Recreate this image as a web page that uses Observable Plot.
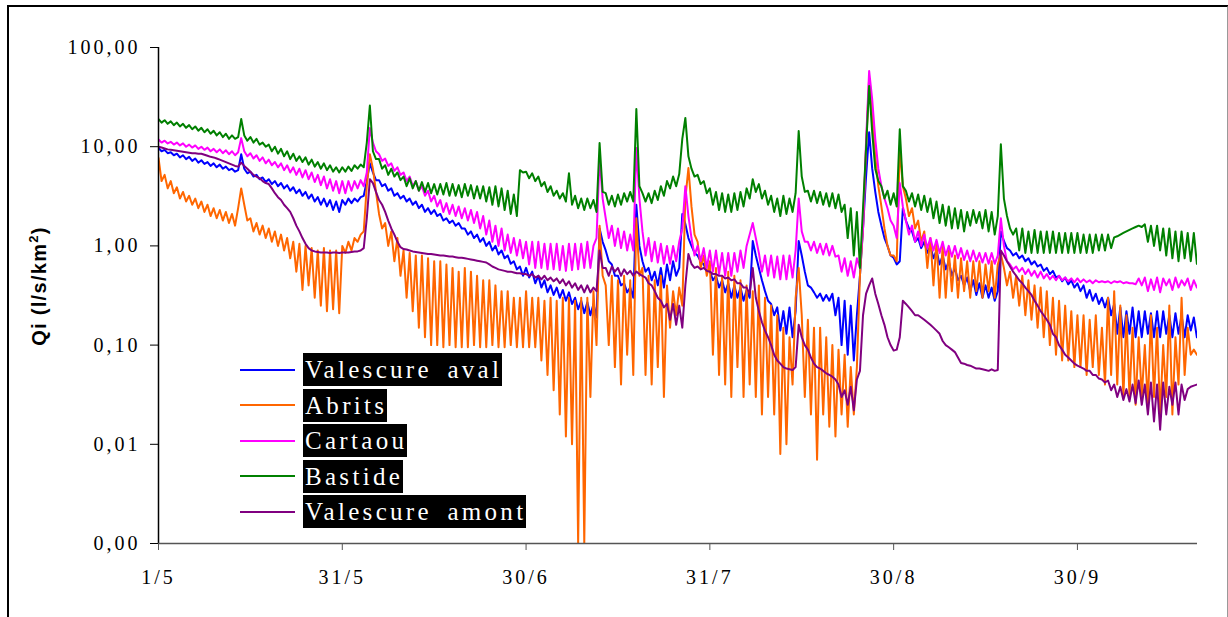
<!DOCTYPE html>
<html><head><meta charset="utf-8">
<script src="https://cdn.jsdelivr.net/npm/d3@7"></script>
<script src="https://cdn.jsdelivr.net/npm/@observablehq/plot@0.6"></script>
<style>
body{margin:0;background:#fff;}
#wrap{position:relative;width:1228px;height:617px;overflow:hidden;background:#fff;}
#plot{position:absolute;left:0;top:0;}
#frame{position:absolute;left:7px;top:5px;width:1218px;height:700px;border-left:2px solid #000;border-top:2px solid #000;border-right:2px solid #999;pointer-events:none;}
#ytitle{position:absolute;left:38px;top:286px;transform:translate(-50%,-50%) rotate(-90deg);font:bold 20px "Liberation Sans",Arial,sans-serif;white-space:nowrap;letter-spacing:1.3px;}
#ytitle .sup{font-size:13px;vertical-align:8px;}
.leg{position:absolute;left:240px;height:33px;display:flex;align-items:center;}
.leg .ln{width:55px;height:2px;margin-right:8px;}
.leg .tx{background:#000;color:#fff;font:25px "Liberation Serif","Times New Roman",serif;letter-spacing:3.3px;word-spacing:6px;padding:0 0 0 2px;height:33px;line-height:34px;white-space:pre;}
#plot g[aria-label="y-axis tick label"] text, #plot g[aria-label="x-axis tick label"] text{letter-spacing:3px;}
</style></head><body>
<div id="wrap"><div id="plot"></div><div id="frame"></div><div id="ytitle">Qi (l/s/km<span class="sup">2</span>)</div><div id="legend"></div></div>
<script>
// x = day index since 1/5 at half-day steps
const xTicks = [0, 30, 60, 90, 120, 150];
const xLabels = ["1/5", "31/5", "30/6", "31/7", "30/8", "30/9"];
const yTicks = [100, 10, 1, 0.1, 0.01, 0.001];
const yLabels = ["100,00", "10,00", "1,00", "0,10", "0,01", "0,00"];
const names = ["Valescure aval", "Abrits", "Cartaou", "Bastide", "Valescure amont"];
const colors = ["#0000ff", "#ff6600", "#ff00ff", "#008000", "#800080"];

const valescureAval = [
9.7,9,9.3,8.6,8.8,8.2,8.5,7.8,8.2,7.5,7.9,7.2,7.6,6.9,7.3,6.7,7,6.4,6.8,6.2,
6.6,6,6.3,5.8,6,5.6,5.8,8.4,6,5.4,5.6,5,5.2,4.7,4.9,4.4,4.7,4.2,4.5,4,
4.3,3.8,4.1,3.6,3.9,3.4,3.7,3.2,3.5,3,3.3,2.8,3.1,2.6,3,2.5,2.9,2.3,2.8,2.2,
2.9,2.6,3,2.7,3,2.8,3.1,3.2,4.5,6.8,5.5,4.6,4.6,4,4.2,3.6,3.8,3.2,3.4,3,
3.2,2.8,3,2.6,2.8,2.4,2.6,2.2,2.4,2.1,2.3,2,2.1,1.8,1.9,1.7,1.8,1.6,1.7,1.5,
1.5,1.3,1.4,1.2,1.3,1.1,1.2,1,1.1,0.9,1,0.82,0.9,0.75,0.8,0.66,0.7,0.58,0.62,0.5,
0.6,0.48,0.55,0.42,0.5,0.38,0.45,0.34,0.4,0.32,0.38,0.3,0.36,0.28,0.34,0.26,0.3,0.23,0.28,0.21,
0.27,0.2,0.26,0.19,1.5,1.1,0.9,0.7,0.65,0.5,0.5,0.4,0.42,0.34,0.38,0.3,2.6,1,0.7,0.55,
0.6,0.45,0.55,0.4,0.6,0.38,0.65,0.45,0.7,0.5,0.6,2.1,1.66,1.2,1,0.85,0.8,0.7,0.65,0.56,
0.56,0.45,0.5,0.38,0.45,0.34,0.42,0.3,0.4,0.3,0.38,0.28,0.36,0.3,1.12,0.8,0.6,0.45,0.35,0.28,
0.26,0.2,0.24,0.14,0.22,0.13,0.24,0.12,0.22,1.12,0.8,0.55,0.4,0.38,0.34,0.3,0.33,0.28,0.32,0.28,
0.33,0.2,0.3,0.1,0.28,0.08,0.25,0.07,0.2,0.5,1.5,5,14,6,3.5,2.2,1.6,1.2,1,0.8,
0.76,0.65,0.7,2.4,1.8,1.5,1.4,1.1,1.2,0.95,1.1,0.85,1,0.75,0.9,0.65,0.8,0.58,0.7,0.5,
0.6,0.45,0.5,0.4,0.48,0.35,0.45,0.32,0.42,0.3,0.4,0.3,0.38,0.28,0.35,1.4,1.12,0.95,0.9,0.8,
0.85,0.75,0.8,0.7,0.75,0.65,0.7,0.62,0.65,0.56,0.6,0.52,0.56,0.48,0.5,0.44,0.48,0.41,0.45,0.38,
0.42,0.35,0.4,0.3,0.36,0.28,0.33,0.26,0.3,0.24,0.3,0.2,0.26,0.13,0.24,0.12,0.22,0.13,0.24,0.12,
0.22,0.12,0.22,0.13,0.21,0.12,0.22,0.12,0.22,0.13,0.2,0.12,0.21,0.13,0.2,0.12,0.2,0.14,0.19,0.12
];
const abrits = [
7.7,4.5,5.2,3.8,4.5,3.4,3.9,3,3.5,2.8,3.2,2.6,3,2.4,2.8,2.2,2.6,2,2.4,1.9,
2.3,1.8,2.2,1.7,2.1,1.6,2.4,3.8,2.6,1.8,1.9,1.4,1.7,1.3,1.6,1.2,1.5,1.1,1.4,1,
1.3,0.9,1.2,0.75,1.1,0.55,1.05,0.36,1,0.4,0.95,0.3,0.9,0.25,0.95,0.22,0.9,0.23,0.9,0.21,
1,0.85,1.1,0.9,1.2,1.1,1.3,1.4,4,8.4,6,3.5,2.1,1.5,1.7,1,1.4,0.7,1.2,0.5,
0.9,0.3,0.85,0.22,0.8,0.15,0.8,0.12,0.75,0.1,0.7,0.1,0.7,0.095,0.65,0.1,0.6,0.095,0.55,0.095,
0.6,0.095,0.55,0.1,0.5,0.095,0.45,0.095,0.45,0.1,0.4,0.095,0.35,0.095,0.35,0.1,0.3,0.095,0.3,0.095,
0.35,0.095,0.3,0.095,0.3,0.07,0.28,0.05,0.3,0.035,0.28,0.02,0.3,0.012,0.3,0.01,0.28,0.001,0.3,0.001,
0.3,0.03,0.35,0.1,1.6,0.5,0.4,0.1,0.5,0.06,0.45,0.04,0.5,0.08,0.45,0.05,1.9,0.5,0.6,0.05,
0.5,0.04,0.45,0.06,0.5,0.03,0.4,0.15,0.35,0.2,0.38,0.25,3,6.1,2.5,1.3,1.1,0.6,0.8,0.5,
0.7,0.08,0.6,0.05,0.5,0.04,0.55,0.03,0.5,0.06,0.45,0.03,0.4,0.04,0.35,0.03,0.4,0.02,0.3,0.03,
0.25,0.02,0.2,0.008,0.15,0.01,0.12,0.04,0.3,0.6,0.2,0.03,0.18,0.02,0.15,0.007,0.15,0.02,0.12,0.015,
0.1,0.012,0.09,0.02,0.08,0.015,0.06,0.02,0.06,0.5,1.5,10,49,20,8,4,2.5,1.5,1,0.8,
0.8,0.7,9.7,4,3,2,2.4,1.5,1.8,1.1,1.4,0.6,1.2,0.4,1.1,0.3,1,0.3,0.9,0.35,
0.8,0.3,0.75,0.35,0.7,0.3,0.7,0.35,0.7,0.3,0.65,0.35,0.7,0.3,0.65,0.83,0.6,0.4,0.55,0.3,
0.5,0.25,0.5,0.2,0.45,0.18,0.4,0.15,0.38,0.12,0.35,0.1,0.3,0.08,0.28,0.07,0.25,0.07,0.22,0.06,
0.2,0.06,0.2,0.05,0.18,0.06,0.2,0.05,0.15,0.04,0.3,0.05,0.35,0.04,0.25,0.03,0.2,0.03,0.15,0.025,
0.12,0.03,0.1,0.025,0.2,0.03,0.15,0.02,0.1,0.03,0.25,0.02,0.12,0.04,0.3,0.05,0.15,0.08,0.09,0.08
];
const cartaou = [
11.8,11,11.5,10.8,11.2,10.5,11,10.3,10.8,10,10.5,9.8,10.3,9.5,10,9.3,9.8,9,9.5,8.8,
9.4,8.6,9.2,8.4,9,8.2,8.8,12.2,9,8,8.6,7.6,8.2,7.2,7.8,6.8,7.4,6.5,7,6.2,
6.8,5.8,6.5,5.5,6.2,5.2,6,4.9,5.8,4.7,5.5,4.4,5.2,4.1,5,3.8,4.7,3.6,4.5,3.4,
4.5,3.4,4.5,3.6,4.5,3.8,4.6,4,5.5,15.4,11,9,8.4,7.2,7.6,6.4,6.8,5.7,6.2,5.2,
5.5,4.5,5,4,4.5,3.6,4,3.2,3.6,2.8,3.2,2.5,2.9,2.2,2.7,2.1,2.6,2,2.5,1.9,
2.4,1.8,2.3,1.7,2.2,1.5,2,1.3,1.8,1.1,1.6,1,1.5,0.9,1.3,0.85,1.2,0.8,1.15,0.75,
1.1,0.65,1.1,0.6,1.1,0.6,1.05,0.58,1.05,0.58,1.05,0.57,1,0.56,1.05,0.57,1.05,0.58,1.05,0.6,
1.1,0.6,1,1.2,7.7,3,1.9,1.2,1.6,1,1.5,0.95,1.4,0.9,1.3,0.9,9.7,3,1.4,0.8,
1.2,0.7,1.1,0.68,1.05,0.66,1,0.66,1,0.7,1.1,1.5,4,2,1.2,0.8,1,0.7,0.95,0.6,
0.9,0.55,0.9,0.52,0.85,0.5,0.85,0.5,0.85,0.55,0.9,0.6,1,1.3,1.7,1.2,0.85,0.55,0.8,0.5,
0.8,0.48,0.78,0.46,0.8,0.46,0.8,0.48,0.9,3,1.4,1.1,1.1,0.9,1.1,0.85,1.05,0.82,1.05,0.8,
1,0.78,0.8,0.55,0.75,0.5,0.7,0.48,0.75,0.6,1.5,11.4,58,30,12,6,4,3,2.4,1.8,
1.6,1.2,4.3,2.5,1.8,1.3,1.6,1.1,1.4,1,1.3,0.95,1.2,0.9,1.15,0.85,1.1,0.8,1,0.78,
1,0.75,0.95,0.72,0.9,0.7,0.9,0.7,0.85,0.68,0.85,0.66,0.85,0.66,0.8,1.9,1,0.7,0.65,0.58,
0.62,0.55,0.6,0.52,0.58,0.5,0.56,0.48,0.55,0.47,0.52,0.46,0.5,0.45,0.5,0.45,0.48,0.44,0.47,0.43,
0.47,0.43,0.46,0.43,0.45,0.42,0.45,0.43,0.44,0.43,0.44,0.42,0.44,0.43,0.44,0.42,0.43,0.42,0.42,0.41,
0.47,0.4,0.48,0.35,0.46,0.36,0.48,0.34,0.47,0.4,0.46,0.36,0.48,0.38,0.45,0.4,0.47,0.36,0.45,0.38
];
const bastide = [
19,17.5,18.5,17,18,16.5,17.5,16,17,15.5,16.5,15,16,14.5,15.5,14,15,13.5,14.5,13,
14,12.5,13.5,12,13,12,12.5,19,13,11.5,12.5,11,12,10.5,11,10,10.5,9,10,8.5,
9.5,8,9,7.5,8.5,7.2,8,7,7.8,6.6,7.4,6.3,7,6,6.8,5.8,6.5,5.6,6.2,5.5,
6.2,5.6,6.3,5.7,6.5,6,6.6,6.2,11,26,9,7.5,7.5,6,6.5,5.2,6,5,5.5,4.6,
5,4,4.8,3.8,4.5,3.6,4.4,3.5,4.3,3.4,4.2,3.3,4.2,3.3,4.3,3.2,4.2,3.2,4.1,3.1,
4.2,3.2,4.1,3,4,3,4,2.8,3.9,2.6,4,2.5,3.8,2.3,3.6,2.1,3.3,2,5.8,5.5,
5.6,4.8,5.4,4.5,5,4,4.4,3.5,4,3.2,3.6,3,3.4,2.8,5.4,2.6,3.2,2.4,3,2.3,
3,2.4,2.9,2.2,10.9,3.5,3.4,2.6,3.2,2.5,3.3,2.6,3.4,2.8,3.5,2.8,24,4,3.4,2.8,
3.4,2.7,3.6,2.9,4,3.2,4.5,3.8,5,4,5.3,12,19.5,8,6,5,5.2,4.2,4.5,3.4,
3.8,2.6,3.5,2.3,3.4,2.2,3.3,2.2,3.4,2.3,3.5,2.5,3.8,3,4.7,3.5,4.2,3,3.6,2.6,
3.2,2.2,3,2,3.2,2.1,3,2.2,3.4,14.4,5,3.5,3.6,2.8,3.6,2.7,3.5,2.6,3.4,2.5,
3.4,2.4,3.3,2.2,2.6,1.2,2.4,0.8,2.2,0.6,2.4,9.7,41,14,6,4.5,4,3,3.6,2.6,
3.4,2.5,15,4,3.6,2.8,3.4,2.5,3.3,2.3,3.2,2.2,3,1.9,2.8,1.7,2.6,1.6,2.5,1.5,
2.4,1.5,2.3,1.4,2.2,1.6,2.3,1.7,2.2,1.5,2.3,1.4,2.2,1.3,2,10.6,3,2,1.5,1.3,
1.5,0.9,1.5,0.85,1.4,0.85,1.45,0.85,1.4,0.85,1.4,0.85,1.4,0.85,1.35,0.85,1.35,0.85,1.35,0.85,
1.35,0.85,1.3,0.85,1.3,0.85,1.3,0.9,1.3,0.9,1.3,0.95,1.22,1.25,1.3,1.35,1.4,1.45,1.5,1.55,
1.6,1.55,1.65,1.1,1.6,1,1.6,0.9,1.5,0.8,1.5,0.75,1.4,0.7,1.4,0.75,1.35,0.7,1.35,0.66
];
const valescureAmont = [
10,9.8,9.6,9.4,9.3,9.2,9.1,9,8.9,8.8,8.7,8.6,8.6,8.5,8.5,8.3,8.1,7.9,7.8,7.6,
7.4,7.2,7,6.8,6.6,6.4,6.3,6.9,6.4,6,5.6,5.2,5,4.8,4.5,4.3,4.2,3.8,3.4,3.1,
2.9,2.6,2.4,2.2,1.9,1.6,1.4,1.2,1.05,0.95,0.9,0.88,0.87,0.86,0.86,0.86,0.85,0.86,0.86,0.85,
0.86,0.86,0.86,0.87,0.88,0.88,0.9,0.95,1.9,4.7,4.3,3.5,2.9,2.6,2.2,1.8,1.5,1.3,1.1,0.97,
0.93,0.92,0.9,0.88,0.87,0.86,0.85,0.84,0.83,0.83,0.82,0.81,0.8,0.8,0.79,0.78,0.78,0.77,0.76,0.76,
0.75,0.74,0.73,0.72,0.71,0.7,0.69,0.68,0.65,0.62,0.6,0.58,0.57,0.56,0.55,0.55,0.54,0.53,0.53,0.52,
0.52,0.5,0.52,0.48,0.5,0.46,0.5,0.45,0.48,0.44,0.47,0.42,0.46,0.4,0.44,0.38,0.42,0.36,0.4,0.34,
0.4,0.34,0.38,0.35,0.9,0.6,0.6,0.5,0.62,0.55,0.6,0.5,0.58,0.52,0.56,0.5,0.55,0.52,0.5,0.48,
0.42,0.4,0.35,0.3,0.28,0.24,0.26,0.18,0.26,0.16,0.25,0.15,0.4,0.83,0.66,0.6,0.62,0.58,0.6,0.56,
0.55,0.52,0.52,0.5,0.5,0.47,0.48,0.45,0.46,0.42,0.42,0.38,0.38,0.33,0.6,0.3,0.22,0.17,0.14,0.12,
0.1,0.08,0.07,0.065,0.06,0.058,0.057,0.056,0.06,0.16,0.12,0.1,0.09,0.075,0.065,0.06,0.058,0.055,0.052,0.05,
0.048,0.045,0.04,0.03,0.035,0.025,0.038,0.022,0.045,0.055,0.2,0.33,0.4,0.47,0.33,0.26,0.2,0.16,0.12,0.1,
0.088,0.09,0.12,0.28,0.26,0.24,0.22,0.2,0.2,0.19,0.18,0.17,0.16,0.15,0.14,0.13,0.11,0.1,0.095,0.09,
0.085,0.075,0.066,0.065,0.063,0.062,0.06,0.058,0.058,0.057,0.056,0.055,0.057,0.055,0.056,0.9,0.8,0.7,0.62,0.55,
0.5,0.45,0.42,0.38,0.35,0.32,0.28,0.25,0.22,0.2,0.18,0.16,0.13,0.12,0.1,0.09,0.08,0.075,0.07,0.065,
0.062,0.06,0.058,0.055,0.055,0.05,0.05,0.046,0.045,0.042,0.044,0.035,0.04,0.03,0.038,0.028,0.036,0.027,0.04,0.026,
0.044,0.025,0.04,0.02,0.042,0.017,0.04,0.014,0.042,0.02,0.038,0.025,0.042,0.02,0.04,0.028,0.036,0.038,0.039,0.04
];

const seriesValues = [valescureAval, abrits, cartaou, bastide, valescureAmont];
seriesValues.forEach((s, k) => { if (s.length !== 340) throw new Error(names[k] + " has " + s.length); });

const rows = seriesValues.flatMap((vals, k) => vals.map((v, i) => ({name: names[k], t: i / 2, v})));

const chart = Plot.plot({
  width: 1228, height: 617,
  marginLeft: 158, marginRight: 31, marginTop: 47, marginBottom: 74,
  style: {fontFamily: '"Liberation Serif","Times New Roman",serif', fontSize: "20px", background: "transparent", color: "#000"},
  x: {domain: [0, 169.6]},
  y: {type: "log", domain: [0.001, 100]},
  color: {domain: names, range: colors},
  marks: [
    Plot.axisY({ticks: yTicks, tickFormat: d => yLabels[yTicks.indexOf(d)], tickSize: 8, tickPadding: 10, label: null, stroke: "#000", fill: "#000"}),
    Plot.axisX({ticks: xTicks, tickFormat: d => xLabels[xTicks.indexOf(d)], tickSize: 7, tickPadding: 19, label: null, stroke: "#555", fill: "#000"}),
    ...names.map(n => Plot.line(rows.filter(r => r.name === n), {x: "t", y: "v", stroke: "name", strokeWidth: 2, clip: true})),
    Plot.ruleX([0], {stroke: "#000", strokeWidth: 1.5}),
    Plot.ruleY([0.001], {stroke: "#555", strokeWidth: 1.5})
  ]
});
document.getElementById("plot").appendChild(chart);

const legend = document.getElementById("legend");
names.forEach((n, i) => {
  const row = document.createElement("div");
  row.className = "leg";
  row.style.top = (353 + i * 35.5) + "px";
  const ln = document.createElement("div");
  ln.className = "ln"; ln.style.background = colors[i];
  const tx = document.createElement("div");
  tx.className = "tx"; tx.textContent = n;
  row.appendChild(ln); row.appendChild(tx);
  legend.appendChild(row);
});
</script>
</body></html>
